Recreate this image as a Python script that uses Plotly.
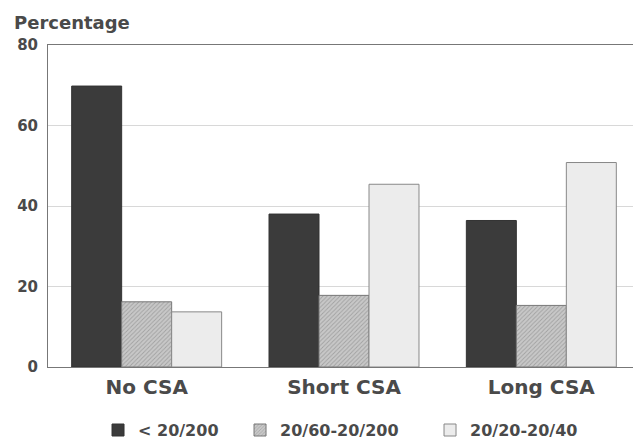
import plotly.graph_objects as go

categories = ["No CSA", "Short CSA", "Long CSA"]
series_names = ["< 20/200", "20/60-20/200", "20/20-20/40"]
vals_low = [69.8, 38.0, 36.4]
vals_mid = [16.2, 17.8, 15.3]
vals_high = [13.7, 45.4, 50.8]
y_ticks = [0, 20, 40, 60, 80]

font_fam = "DejaVu Sans, Verdana, sans-serif"
txt_col = "#4a4a4a"

fig = go.Figure()
fig.add_trace(go.Bar(
    x=categories, y=vals_low, name=series_names[0], legendwidth=97,
    marker=dict(color="#3b3b3b", line=dict(color="#333", width=1)),
))
fig.add_trace(go.Bar(
    x=categories, y=vals_mid, name=series_names[1], legendwidth=145,
    marker=dict(color="#bdbdbd", line=dict(color="#777", width=1),
                pattern=dict(shape="/", fgcolor="#7a7a7a", bgcolor="#c8c8c8", size=3, solidity=0.3)),
))
fig.add_trace(go.Bar(
    x=categories, y=vals_high, name=series_names[2], legendwidth=120,
    marker=dict(color="#ececec", line=dict(color="#888", width=1)),
))

fig.update_layout(
    width=633, height=431,
    margin=dict(l=40, r=1, t=37, b=72, autoexpand=False),
    paper_bgcolor="white", plot_bgcolor="white",
    barmode="group", bargap=0.24, bargroupgap=0,
    font=dict(family=font_fam, color=txt_col, size=15, weight="bold"),
    showlegend=True,
    legend=dict(orientation="h", x=0.0845, xanchor="left", y=-0.196, yanchor="middle",
                font=dict(size=16, family=font_fam, color=txt_col, weight="bold"),
                itemwidth=30, traceorder="normal", tracegroupgap=0),
    annotations=[dict(text="Percentage", xref="paper", yref="paper",
                      x=-0.061, y=1.071, xanchor="left", yanchor="middle",
                      showarrow=False, font=dict(size=18, color=txt_col, weight="bold"))],
)
fig.update_xaxes(range=[-0.5, 2.5], showline=True, linecolor="#777", linewidth=1,
                 mirror=True, ticks="", tickfont=dict(size=20, color=txt_col, weight="bold"),
                 ticklabelstandoff=2)
fig.update_yaxes(range=[0, 80], tickvals=y_ticks, showgrid=True, gridcolor="#d8d8d8",
                 showline=True, linecolor="#777", linewidth=1, mirror=True,
                 ticks="", tickfont=dict(size=15, color=txt_col, weight="bold"), zeroline=False,
                 ticklabelstandoff=6)
fig.write_html("out.html")
